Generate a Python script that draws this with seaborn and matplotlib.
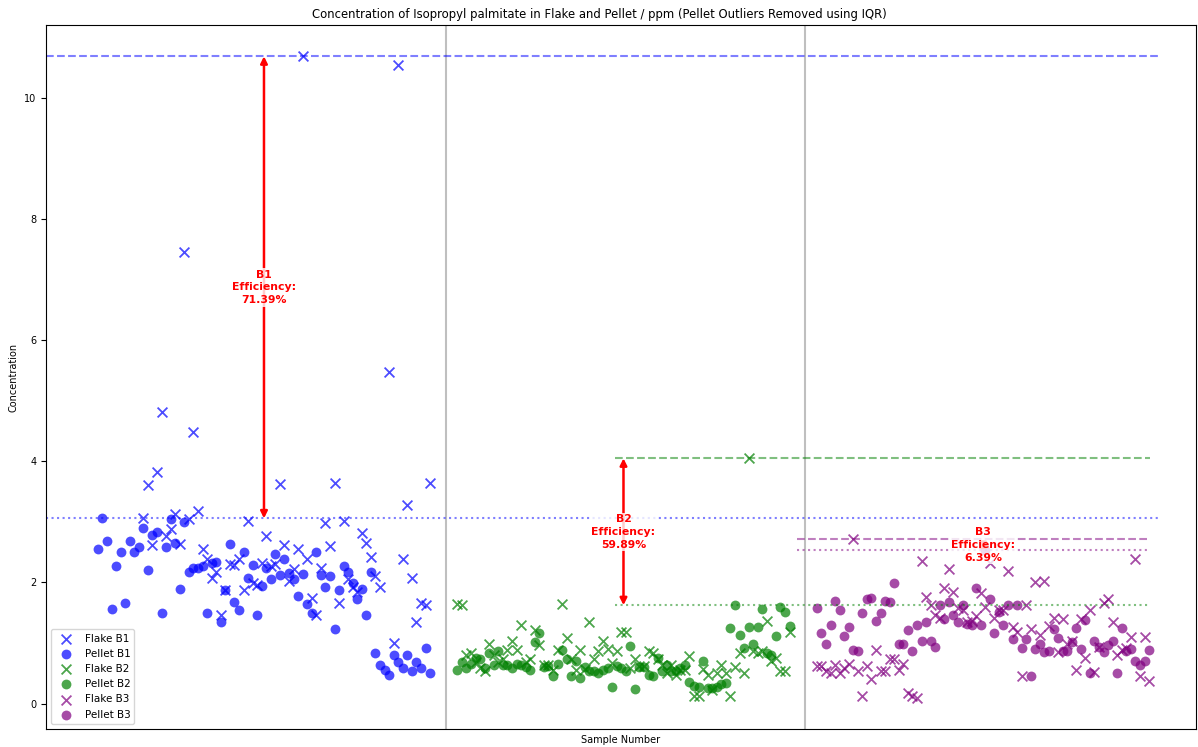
import numpy as np
import pandas as pd
import seaborn as sns
import matplotlib
matplotlib.use('Agg')
import matplotlib.pyplot as plt

nan = np.nan

# Concentrations (ppm) per sample
flake_b1 = [nan] * 10 + [
    3.06, 3.61, 2.62, 3.82, 4.82, 2.77, 2.88, 3.13, 2.64, 7.45,
    3.05, 4.48, 3.18, 2.55, 2.38, 2.07, 2.17, 1.46, 1.87, 2.31,
    2.29, 2.39, 1.88, 3.01, 1.99, 1.96, 2.32, 2.76, 2.27, 2.31,
    3.63, 2.62, 2.03, 2.22, 2.55, 10.69, 2.39, 1.75, 1.47, 2.24,
    2.99, 2.60, 3.65, 1.66, 3.01, 2.05, 1.93, 1.85, 2.81, 2.66,
    2.42, 2.11, 1.93, nan, 5.47, 1.00, 10.55, 2.39, 3.28, 2.07,
    1.34, 1.66, 1.63, 3.64]
pellet_b1 = [
    2.56, 3.058, 2.69, 1.56, 2.28, 2.51, 1.66, 2.69, 2.50, 2.59,
    2.90, 2.21, 2.79, 2.84, 1.50, 2.59, 3.04, 2.65, 1.90, 3.00,
    2.17, 2.24, 2.24, 2.27, 1.49, 2.32, 2.34, 1.35, 1.88, 2.63,
    1.67, 1.54, 2.50, 2.07, 2.29, 1.46, 1.94, 2.24, 2.06, 2.47,
    2.12, 2.38, 2.16, 2.05, 1.77, 2.14, 1.65, 1.49, 2.51, 2.12,
    1.93, 2.11, 1.23, 1.88, 2.27, 2.18, 1.99, 1.73, 1.90, 1.47,
    2.18, 0.84, 0.64, 0.55, 0.47, 0.81, 0.68, 0.59, 0.80, 0.53,
    0.68, 0.58, 0.92, 0.50]

flake_b2 = [
    1.65, 1.62, 0.81, 0.84, 0.69, 0.59, 0.53, 0.99, 0.81, 0.68,
    0.73, 0.89, 1.04, 0.89, 1.29, 0.69, 0.74, 1.22, 0.97, 0.64,
    0.63, 0.56, 0.89, 1.65, 1.08, 0.74, 0.56, 0.89, 0.57, 1.35,
    0.74, 0.87, 1.03, 0.90, 0.67, 0.86, 1.19, 1.19, 0.58, 0.74,
    0.62, 0.62, 0.86, 0.84, 0.73, 0.64, 0.50, 0.64, 0.48, 0.56,
    0.55, 0.79, 0.13, 0.12, 0.57, 0.48, 0.23, 0.51, 0.64, 0.50,
    0.13, 0.60, 0.84, 0.50, 4.05, 0.86, 0.84, 0.86, 1.37, 0.70,
    0.75, 0.53, 0.53, 1.18]
pellet_b2 = [
    0.55, 0.69, 0.59, 0.66, 0.76, 0.74, 0.59, 0.83, 0.64, 0.87,
    0.63, 0.63, 0.59, 0.66, 0.63, 0.61, 0.56, 1.01, 1.16, 0.61,
    0.62, 0.46, 0.66, 0.89, 0.74, 0.46, 0.71, 0.42, 0.60, 0.54,
    0.53, 0.51, 0.56, 0.58, 0.28, 0.62, 0.59, 0.53, 0.95, 0.24,
    0.60, 0.61, 0.48, 0.46, 0.75, 0.54, 0.63, 0.54, 0.53, 0.59,
    0.63, 0.35, 0.29, 0.28, 0.71, 0.25, 0.25, 0.27, 0.32, 0.34,
    1.24, 1.6245, 1.14, 0.92, 1.26, 0.98, 1.27, 1.56, 0.83, 0.80,
    1.12, 1.60, 1.51, 1.28]

flake_b3 = [
    0.62, 0.62, 0.53, 0.50, 0.64, 0.51, 0.58, 0.66, 2.71, 0.53,
    0.12, 0.62, 0.41, 0.89, 0.53, 0.53, 0.74, 0.73, 0.56, 0.65,
    0.18, 0.12, 0.10, 2.35, 1.76, 1.62, 1.47, 1.42, 1.91, 2.23,
    1.85, 1.58, 1.55, 1.35, 1.36, 1.45, 1.83, 1.60, 2.32, 1.41,
    1.55, 1.55, 2.19, 1.26, 1.18, 0.46, 1.62, 1.23, 2.00, 1.13,
    2.03, 1.28, 1.41, 0.85, 1.39, 0.99, 1.03, 0.55, 1.39, 0.75,
    1.54, 0.52, 0.93, 1.66, 1.73, 1.34, 0.81, 0.88, 0.92, 1.10,
    2.38, 0.46, 1.10, 0.37]
pellet_b3 = [
    1.58, 1.17, 0.99, 1.30, 1.70, 1.55, 1.12, 1.26, 0.89, 0.86,
    1.50, 1.73, 1.74, 1.36, 1.50, 1.70, 1.67, 1.99, 0.99, 0.99,
    1.22, 0.86, 1.29, 1.03, 1.35, 1.04, 0.94, 1.63, 1.40, 1.68,
    1.46, 1.34, 1.63, 1.32, 1.29, 1.91, 1.30, 2.5368, 1.73, 1.16,
    1.51, 1.29, 1.62, 1.06, 1.62, 0.92, 1.06, 0.46, 0.90, 0.99,
    0.85, 0.87, 1.23, 1.08, 0.86, 0.86, 1.01, 1.24, 0.90, 1.38,
    0.50, 1.03, 0.94, 0.85, 0.96, 1.03, 0.51, 1.25, 0.87, 0.90,
    0.70, 0.64, 0.70, 0.88]

batches = ['B1', 'B2', 'B3']
colors = ['blue', 'green', 'purple']
offsets = [0, 79, 158]
flakes = [flake_b1, flake_b2, flake_b3]
pellets = [pellet_b1, pellet_b2, pellet_b3]

plt.rcParams['font.size'] = 7

fig, ax = plt.subplots(figsize=(11.98, 7.47), dpi=100)
fig.subplots_adjust(left=0.0384, right=0.9983, bottom=0.0241, top=0.966)

for b, c, off, fl, pe in zip(batches, colors, offsets, flakes, pellets):
    x = np.arange(len(fl)) + off
    sns.scatterplot(x=x, y=fl, marker='x', color=c, s=50, alpha=0.7,
                    linewidth=1.3, label=f'Flake {b}', ax=ax)
    sns.scatterplot(x=x, y=pe, marker='o', color=c, s=50, alpha=0.7,
                    linewidth=0, label=f'Pellet {b}', ax=ax)

# batch separators
for xv in [76.5, 155.4]:
    ax.axvline(xv, color='grey', alpha=0.5, linewidth=1.5)

# max lines per batch (dashed = flake max, dotted = pellet max)
line_span = [(-11.4, 233.4), (113.6, 231.2), (153.6, 231.2)]
for b, c, off, fl, pe, (x0, x1) in zip(batches, colors, offsets, flakes, pellets, line_span):
    fmax = np.nanmax(fl)
    pmax = np.nanmax(pe)
    ax.hlines(fmax, x0, x1, colors=c, linestyles='--', alpha=0.5, linewidth=1.5)
    ax.hlines(pmax, x0, x1, colors=c, linestyles=':', alpha=0.5, linewidth=1.5)
    xc = off + (len(pe) - 1) / 2
    ax.annotate('', xy=(xc, fmax), xytext=(xc, pmax),
                arrowprops=dict(arrowstyle='<|-|>', color='red', lw=1.8,
                                mutation_scale=10, shrinkA=0, shrinkB=0))
    eff = (1 - pmax / fmax) * 100
    ax.text(xc, (fmax + pmax) / 2, f'{b}\nEfficiency:\n{eff:.2f}%',
            color='red', fontsize=7.8, fontweight='bold', ha='center', va='center',
            linespacing=1.35,
            bbox=dict(facecolor='white', edgecolor='none', alpha=0.8, pad=1))

ax.set_xlim(-11.4, 241.3)
ax.set_ylim(-0.42, 11.2)
ax.set_xticks([])
ax.set_xlabel('Sample Number', fontsize=7)
ax.set_ylabel('Concentration', fontsize=7)
fig.suptitle('Concentration of Isopropyl palmitate in Flake and Pellet / ppm (Pellet Outliers Removed using IQR)',
             fontsize=8.4, x=0.5, y=0.981, va='center')
ax.legend(loc='lower left', fontsize=7.5)

plt.savefig('out.png', dpi=100)
